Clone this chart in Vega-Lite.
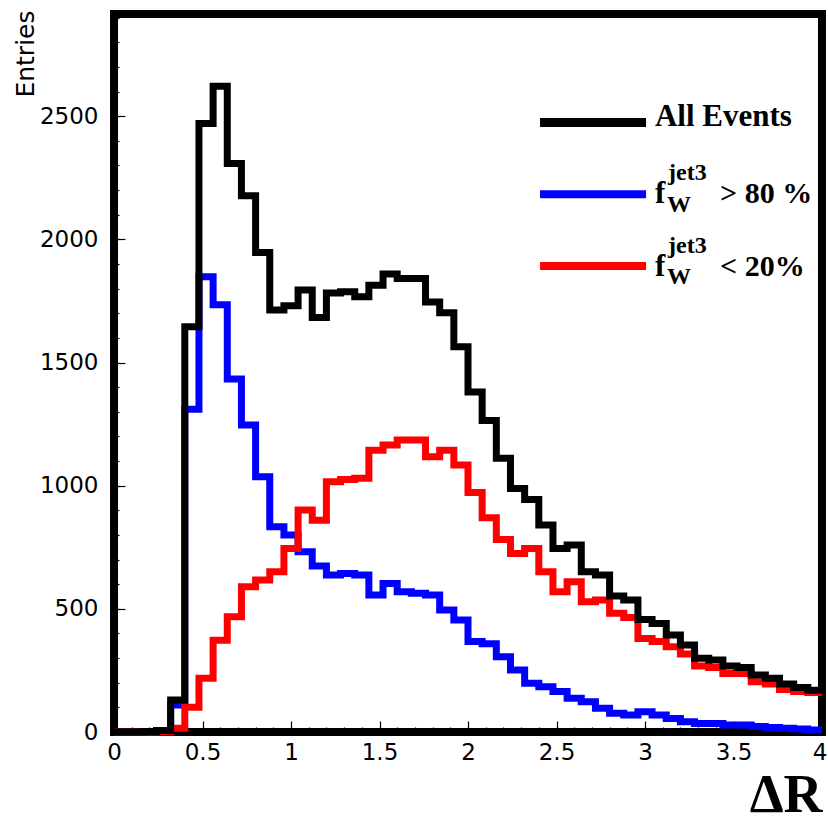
{
  "$schema": "https://vega.github.io/schema/vega-lite/v6.json",
  "autosize": {"type": "none"},
  "width": 708,
  "height": 718,
  "padding": {"left": 114, "top": 14, "right": 6, "bottom": 91},
  "background": "white",
  "config": {
    "view": {"stroke": "black", "strokeWidth": 8, "fill": "white"},
    "axis": {"grid": false, "domain": false, "tickColor": "black", "tickWidth": 1.2, "labelColor": "black", "titleColor": "black"}
  },
  "data": {
    "values": [
      {"lo": 0.00, "hi": 0.08, "all": 0, "fw_gt80": 0, "fw_lt20": 0},
      {"lo": 0.08, "hi": 0.16, "all": 0, "fw_gt80": 0, "fw_lt20": 0},
      {"lo": 0.16, "hi": 0.24, "all": 2, "fw_gt80": 1, "fw_lt20": 0},
      {"lo": 0.24, "hi": 0.32, "all": 6, "fw_gt80": 4, "fw_lt20": 1},
      {"lo": 0.32, "hi": 0.40, "all": 130, "fw_gt80": 110, "fw_lt20": 15},
      {"lo": 0.40, "hi": 0.48, "all": 1645, "fw_gt80": 1310, "fw_lt20": 100},
      {"lo": 0.48, "hi": 0.56, "all": 2470, "fw_gt80": 1848, "fw_lt20": 218},
      {"lo": 0.56, "hi": 0.64, "all": 2622, "fw_gt80": 1735, "fw_lt20": 373},
      {"lo": 0.64, "hi": 0.72, "all": 2308, "fw_gt80": 1433, "fw_lt20": 468},
      {"lo": 0.72, "hi": 0.80, "all": 2177, "fw_gt80": 1246, "fw_lt20": 590},
      {"lo": 0.80, "hi": 0.88, "all": 1947, "fw_gt80": 1036, "fw_lt20": 617},
      {"lo": 0.88, "hi": 0.96, "all": 1713, "fw_gt80": 833, "fw_lt20": 651},
      {"lo": 0.96, "hi": 1.04, "all": 1731, "fw_gt80": 800, "fw_lt20": 745},
      {"lo": 1.04, "hi": 1.12, "all": 1794, "fw_gt80": 732, "fw_lt20": 901},
      {"lo": 1.12, "hi": 1.20, "all": 1683, "fw_gt80": 674, "fw_lt20": 860},
      {"lo": 1.20, "hi": 1.28, "all": 1782, "fw_gt80": 637, "fw_lt20": 1016},
      {"lo": 1.28, "hi": 1.36, "all": 1787, "fw_gt80": 644, "fw_lt20": 1025},
      {"lo": 1.36, "hi": 1.44, "all": 1767, "fw_gt80": 637, "fw_lt20": 1030},
      {"lo": 1.44, "hi": 1.52, "all": 1814, "fw_gt80": 556, "fw_lt20": 1144},
      {"lo": 1.52, "hi": 1.60, "all": 1859, "fw_gt80": 603, "fw_lt20": 1165},
      {"lo": 1.60, "hi": 1.68, "all": 1841, "fw_gt80": 569, "fw_lt20": 1185},
      {"lo": 1.68, "hi": 1.76, "all": 1841, "fw_gt80": 563, "fw_lt20": 1185},
      {"lo": 1.76, "hi": 1.84, "all": 1746, "fw_gt80": 556, "fw_lt20": 1117},
      {"lo": 1.84, "hi": 1.92, "all": 1702, "fw_gt80": 495, "fw_lt20": 1144},
      {"lo": 1.92, "hi": 2.00, "all": 1564, "fw_gt80": 455, "fw_lt20": 1084},
      {"lo": 2.00, "hi": 2.08, "all": 1380, "fw_gt80": 367, "fw_lt20": 972},
      {"lo": 2.08, "hi": 2.16, "all": 1265, "fw_gt80": 358, "fw_lt20": 870},
      {"lo": 2.16, "hi": 2.24, "all": 1111, "fw_gt80": 306, "fw_lt20": 782},
      {"lo": 2.24, "hi": 2.32, "all": 989, "fw_gt80": 252, "fw_lt20": 725},
      {"lo": 2.32, "hi": 2.40, "all": 944, "fw_gt80": 198, "fw_lt20": 745},
      {"lo": 2.40, "hi": 2.48, "all": 840, "fw_gt80": 184, "fw_lt20": 651},
      {"lo": 2.48, "hi": 2.56, "all": 745, "fw_gt80": 164, "fw_lt20": 569},
      {"lo": 2.56, "hi": 2.64, "all": 759, "fw_gt80": 137, "fw_lt20": 610},
      {"lo": 2.64, "hi": 2.72, "all": 651, "fw_gt80": 123, "fw_lt20": 529},
      {"lo": 2.72, "hi": 2.80, "all": 637, "fw_gt80": 96, "fw_lt20": 536},
      {"lo": 2.80, "hi": 2.88, "all": 552, "fw_gt80": 76, "fw_lt20": 482},
      {"lo": 2.88, "hi": 2.96, "all": 536, "fw_gt80": 69, "fw_lt20": 465},
      {"lo": 2.96, "hi": 3.04, "all": 457, "fw_gt80": 82, "fw_lt20": 380},
      {"lo": 3.04, "hi": 3.12, "all": 441, "fw_gt80": 69, "fw_lt20": 367},
      {"lo": 3.12, "hi": 3.20, "all": 394, "fw_gt80": 55, "fw_lt20": 346},
      {"lo": 3.20, "hi": 3.28, "all": 353, "fw_gt80": 42, "fw_lt20": 317},
      {"lo": 3.28, "hi": 3.36, "all": 299, "fw_gt80": 35, "fw_lt20": 268},
      {"lo": 3.36, "hi": 3.44, "all": 292, "fw_gt80": 35, "fw_lt20": 262},
      {"lo": 3.44, "hi": 3.52, "all": 268, "fw_gt80": 28, "fw_lt20": 238},
      {"lo": 3.52, "hi": 3.60, "all": 262, "fw_gt80": 28, "fw_lt20": 238},
      {"lo": 3.60, "hi": 3.68, "all": 231, "fw_gt80": 22, "fw_lt20": 204},
      {"lo": 3.68, "hi": 3.76, "all": 218, "fw_gt80": 18, "fw_lt20": 195},
      {"lo": 3.76, "hi": 3.84, "all": 195, "fw_gt80": 15, "fw_lt20": 173},
      {"lo": 3.84, "hi": 3.92, "all": 181, "fw_gt80": 12, "fw_lt20": 164},
      {"lo": 3.92, "hi": 4.00, "all": 170, "fw_gt80": 8, "fw_lt20": 160}
    ]
  },
  "resolve": {"axis": {"x": "independent", "y": "independent"}},
  "layer": [
    {
      "transform": [{"fold": ["lo", "hi"], "as": ["edge", "x"]}],
      "mark": {"type": "line", "color": "#0000ff", "strokeWidth": 7, "strokeJoin": "miter", "strokeCap": "butt", "clip": false},
      "encoding": {
        "x": {"field": "x", "type": "quantitative", "scale": {"domain": [0, 4], "nice": false, "zero": false},
          "axis": {"orient": "bottom", "values": [0, 0.5, 1, 1.5, 2, 2.5, 3, 3.5, 4], "format": "~g", "tickSize": -11, "labelPadding": 20, "labelFont": "DejaVu Sans", "labelFontSize": 23, "labelFlush": false, "labelOverlap": false,
            "labelAlign": {"condition": {"test": "datum.value == 4", "value": "right"}, "value": "center"},
            "labelOffset": {"condition": {"test": "datum.value == 4", "value": 5}, "value": 0},
            "title": "ΔR", "titleFont": "Liberation Serif", "titleFontWeight": "bold", "titleFontSize": 54, "titleAlign": "right", "titleBaseline": "alphabetic", "titleX": 708, "titleY": 79}},
        "y": {"field": "fw_gt80", "type": "quantitative", "scale": {"domain": [0, 2915], "nice": false},
          "axis": {"orient": "left", "values": [0, 500, 1000, 1500, 2000, 2500], "format": "d", "tickSize": -11, "labelPadding": 27, "labelFont": "DejaVu Sans", "labelFontSize": 23, "labelOverlap": false, "labelFlush": false,
            "title": "Entries", "titleFont": "DejaVu Sans", "titleFontWeight": "normal", "titleFontSize": 25, "titleAngle": -90, "titleAlign": "right", "titleBaseline": "alphabetic", "titleX": -81, "titleY": -4}},
        "order": [{"field": "x", "type": "quantitative"}, {"field": "edge", "type": "ordinal"}]
      }
    },
    {
      "transform": [{"fold": ["lo", "hi"], "as": ["edge", "x"]}],
      "mark": {"type": "line", "color": "#ff0000", "strokeWidth": 7, "strokeJoin": "miter", "strokeCap": "butt", "clip": false},
      "encoding": {
        "x": {"field": "x", "type": "quantitative",
          "axis": {"orient": "bottom", "values": [0,0.1,0.2,0.3,0.4,0.5,0.6,0.7,0.8,0.9,1,1.1,1.2,1.3,1.4,1.5,1.6,1.7,1.8,1.9,2,2.1,2.2,2.3,2.4,2.5,2.6,2.7,2.8,2.9,3,3.1,3.2,3.3,3.4,3.5,3.6,3.7,3.8,3.9,4], "tickSize": -5, "labels": false, "title": null}},
        "y": {"field": "fw_lt20", "type": "quantitative",
          "axis": {"orient": "left", "values": [0,100,200,300,400,500,600,700,800,900,1000,1100,1200,1300,1400,1500,1600,1700,1800,1900,2000,2100,2200,2300,2400,2500,2600,2700,2800,2900], "tickSize": -5, "labels": false, "title": null}},
        "order": [{"field": "x", "type": "quantitative"}, {"field": "edge", "type": "ordinal"}]
      }
    },
    {
      "transform": [{"fold": ["lo", "hi"], "as": ["edge", "x"]}],
      "mark": {"type": "line", "color": "#000000", "strokeWidth": 7, "strokeJoin": "miter", "strokeCap": "butt", "clip": false},
      "encoding": {
        "x": {"field": "x", "type": "quantitative", "axis": null},
        "y": {"field": "all", "type": "quantitative", "axis": null},
        "order": [{"field": "x", "type": "quantitative"}, {"field": "edge", "type": "ordinal"}]
      }
    },
    {
      "data": {"values": [{}]},
      "mark": {"type": "rule", "color": "#000000", "strokeWidth": 9, "strokeCap": "butt"},
      "encoding": {"x": {"datum": 2.407, "axis": null}, "x2": {"datum": 3.006}, "y": {"datum": 2475, "axis": null}}
    },
    {
      "data": {"values": [{}]},
      "mark": {"type": "rule", "color": "#0000ff", "strokeWidth": 8, "strokeCap": "butt"},
      "encoding": {"x": {"datum": 2.407, "axis": null}, "x2": {"datum": 3.006}, "y": {"datum": 2183, "axis": null}}
    },
    {
      "data": {"values": [{}]},
      "mark": {"type": "rule", "color": "#ff0000", "strokeWidth": 8, "strokeCap": "butt"},
      "encoding": {"x": {"datum": 2.407, "axis": null}, "x2": {"datum": 3.006}, "y": {"datum": 1892, "axis": null}}
    },
    {
      "data": {"values": [{}]},
      "mark": {"type": "text", "text": "All Events", "font": "Liberation Serif", "fontWeight": "bold", "fontSize": 31, "align": "left", "baseline": "alphabetic", "color": "black"},
      "encoding": {"x": {"datum": 3.056, "axis": null}, "y": {"datum": 2461, "axis": null}}
    },
    {
      "data": {"values": [{}]},
      "mark": {"type": "text", "text": "f", "font": "Liberation Serif", "fontWeight": "bold", "fontSize": 31, "align": "left", "baseline": "alphabetic", "color": "black"},
      "encoding": {"x": {"datum": 3.056, "axis": null}, "y": {"datum": 2147, "axis": null}}
    },
    {
      "data": {"values": [{}]},
      "mark": {"type": "text", "text": "jet3", "font": "Liberation Serif", "fontWeight": "bold", "fontSize": 24, "align": "left", "baseline": "alphabetic", "color": "black"},
      "encoding": {"x": {"datum": 3.13, "axis": null}, "y": {"datum": 2240, "axis": null}}
    },
    {
      "data": {"values": [{}]},
      "mark": {"type": "text", "text": "W", "font": "Liberation Serif", "fontWeight": "bold", "fontSize": 24, "align": "left", "baseline": "alphabetic", "color": "black"},
      "encoding": {"x": {"datum": 3.124, "axis": null}, "y": {"datum": 2110, "axis": null}}
    },
    {
      "data": {"values": [{}]},
      "mark": {"type": "text", "text": "> 80 %", "font": "Liberation Serif", "fontWeight": "bold", "fontSize": 30, "align": "left", "baseline": "alphabetic", "color": "black"},
      "encoding": {"x": {"datum": 3.424, "axis": null}, "y": {"datum": 2147, "axis": null}}
    },
    {
      "data": {"values": [{}]},
      "mark": {"type": "text", "text": "f", "font": "Liberation Serif", "fontWeight": "bold", "fontSize": 31, "align": "left", "baseline": "alphabetic", "color": "black"},
      "encoding": {"x": {"datum": 3.056, "axis": null}, "y": {"datum": 1851, "axis": null}}
    },
    {
      "data": {"values": [{}]},
      "mark": {"type": "text", "text": "jet3", "font": "Liberation Serif", "fontWeight": "bold", "fontSize": 24, "align": "left", "baseline": "alphabetic", "color": "black"},
      "encoding": {"x": {"datum": 3.13, "axis": null}, "y": {"datum": 1944, "axis": null}}
    },
    {
      "data": {"values": [{}]},
      "mark": {"type": "text", "text": "W", "font": "Liberation Serif", "fontWeight": "bold", "fontSize": 24, "align": "left", "baseline": "alphabetic", "color": "black"},
      "encoding": {"x": {"datum": 3.124, "axis": null}, "y": {"datum": 1818, "axis": null}}
    },
    {
      "data": {"values": [{}]},
      "mark": {"type": "text", "text": "< 20%", "font": "Liberation Serif", "fontWeight": "bold", "fontSize": 30, "align": "left", "baseline": "alphabetic", "color": "black"},
      "encoding": {"x": {"datum": 3.424, "axis": null}, "y": {"datum": 1851, "axis": null}}
    }
  ]
}
